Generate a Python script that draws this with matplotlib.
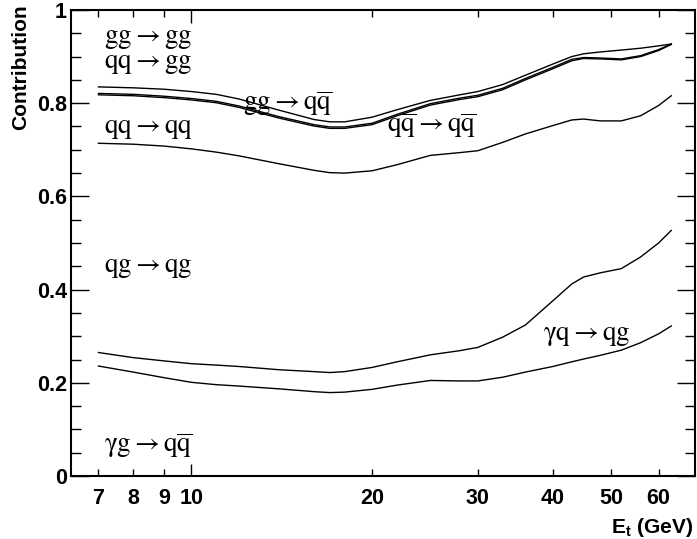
import numpy as np
import matplotlib
matplotlib.use("Agg")
import matplotlib.pyplot as plt
from matplotlib.ticker import FixedLocator, FuncFormatter

# --- data (E_t in GeV, cumulative contribution) ---
et = [7, 8, 9, 10, 11, 12, 14, 16, 17, 18, 20, 22, 25, 28, 30, 33, 36, 40, 43, 45, 48, 52, 56, 60, 63]

top_gg = [0.835, 0.833, 0.830, 0.825, 0.819, 0.809, 0.785, 0.765, 0.760, 0.760, 0.770, 0.786, 0.806,
          0.818, 0.825, 0.840, 0.860, 0.884, 0.900, 0.906, 0.910, 0.914, 0.918, 0.923, 0.927]
qq_gg = [0.821, 0.819, 0.815, 0.810, 0.804, 0.794, 0.771, 0.754, 0.749, 0.749, 0.757, 0.776, 0.799,
         0.811, 0.817, 0.832, 0.853, 0.877, 0.894, 0.898, 0.897, 0.895, 0.902, 0.915, 0.927]
gg_qqbar = [0.818, 0.816, 0.812, 0.807, 0.801, 0.791, 0.768, 0.751, 0.746, 0.746, 0.754, 0.773, 0.796,
            0.808, 0.814, 0.829, 0.850, 0.874, 0.891, 0.896, 0.895, 0.893, 0.900, 0.913, 0.926]
qqbar = [0.714, 0.712, 0.708, 0.702, 0.695, 0.687, 0.670, 0.656, 0.651, 0.650, 0.655, 0.668, 0.688,
         0.694, 0.698, 0.716, 0.734, 0.752, 0.764, 0.766, 0.762, 0.762, 0.773, 0.795, 0.816]
qg = [0.265, 0.254, 0.247, 0.241, 0.238, 0.235, 0.228, 0.224, 0.222, 0.224, 0.233, 0.245, 0.260,
      0.269, 0.276, 0.298, 0.324, 0.376, 0.412, 0.427, 0.436, 0.445, 0.470, 0.500, 0.527]
gamma_q = [0.236, 0.223, 0.211, 0.201, 0.196, 0.193, 0.187, 0.181, 0.179, 0.180, 0.186, 0.195, 0.205,
           0.204, 0.204, 0.212, 0.223, 0.235, 0.245, 0.251, 0.259, 0.270, 0.286, 0.305, 0.322]

curves = [top_gg, qq_gg, gg_qqbar, qqbar, qg, gamma_q]

# process labels: (text, E_t, y baseline)
labels = [
    (r"$\mathrm{gg \rightarrow gg}$", 7.14, 0.930),
    (r"$\mathrm{qq \rightarrow gg}$", 7.14, 0.876),
    (r"$\mathrm{gg \rightarrow q\overline{q}}$", 12.2, 0.785),
    (r"$\mathrm{qq \rightarrow qq}$", 7.14, 0.736),
    (r"$\mathrm{q\overline{q} \rightarrow q\overline{q}}$", 21.2, 0.739),
    (r"$\mathrm{qg \rightarrow qg}$", 7.14, 0.438),
    (r"$\mathrm{\gamma q \rightarrow qg}$", 38.5, 0.292),
    (r"$\mathrm{\gamma g \rightarrow q\overline{q}}$", 7.14, 0.052),
]

x_major = [10]
x_minor = [7, 8, 9, 20, 30, 40, 50, 60]

plt.rcParams["mathtext.fontset"] = "stix"
plt.rcParams["mathtext.rm"] = "Liberation Sans:bold"
plt.rcParams["mathtext.it"] = "Liberation Sans:bold"
plt.rcParams["mathtext.bf"] = "Liberation Sans:bold"

fig = plt.figure(figsize=(6.97, 5.39), dpi=100)
ax = fig.add_axes([71 / 697, 1 - 476 / 539, (695 - 71) / 697, (476 - 10) / 539])

for c in curves:
    ax.plot(et, c, color="black", lw=1.0)

for txt, x, y in labels:
    ax.text(x, y, txt, fontsize=19.5, va="baseline", ha="left", math_fontfamily="stix")

ax.set_xscale("log")
ax.set_xlim(6.3, 69.0)
ax.set_ylim(0, 1)

ax.xaxis.set_major_locator(FixedLocator(x_major))
ax.xaxis.set_minor_locator(FixedLocator(x_minor))
fmt = FuncFormatter(lambda v, p: f"{v:g}")
ax.xaxis.set_major_formatter(fmt)
ax.xaxis.set_minor_formatter(fmt)
ax.yaxis.set_major_locator(FixedLocator([0, 0.2, 0.4, 0.6, 0.8, 1.0]))
ax.yaxis.set_minor_locator(FixedLocator(np.arange(0.05, 1.0, 0.05)))
ax.yaxis.set_major_formatter(fmt)

ax.tick_params(axis="both", which="both", direction="in", top=True, right=True, width=1.0)
ax.tick_params(axis="x", which="major", length=9, pad=9)
ax.tick_params(axis="x", which="minor", length=5, pad=9)
ax.tick_params(axis="y", which="major", length=13, pad=3)
ax.tick_params(axis="y", which="minor", length=7)

for lab in ax.get_xticklabels(which="both") + ax.get_yticklabels():
    lab.set_fontfamily("Liberation Sans")
    lab.set_fontweight("bold")
    lab.set_fontsize(15.5)

for s in ax.spines.values():
    s.set_linewidth(1.5)

fig.text(0.030, 0.991, "Contribution", rotation=90, ha="center", va="top",
         fontsize=15, fontweight="bold", family="Liberation Sans")
fig.text(0.994, 0.012, r"$\mathrm{E_t}$ (GeV)", ha="right", va="baseline",
         fontsize=15, fontweight="bold", family="Liberation Sans", math_fontfamily="custom")

fig.savefig("out.png", dpi=100)
